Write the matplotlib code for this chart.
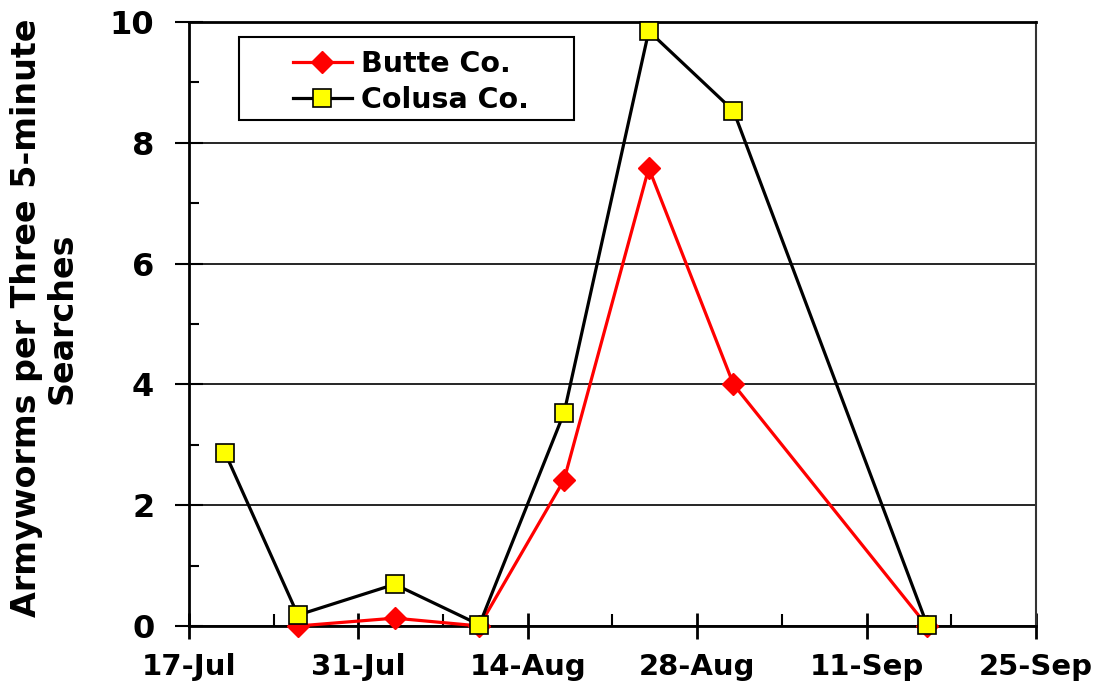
"""Armyworm counts per three 5-minute searches, Butte vs Colusa Co."""

import matplotlib
matplotlib.use("Agg")
import matplotlib.dates as mdates
import matplotlib.pyplot as plt
import pandas as pd
from matplotlib.patches import Rectangle
from matplotlib.ticker import MultipleLocator

# survey dates (year arbitrary, only day/month shown)
butte_dates = ["2004-07-26", "2004-08-03", "2004-08-10", "2004-08-17",
               "2004-08-24", "2004-08-31", "2004-09-16"]
butte_counts = [0.0, 0.13, 0.0, 2.42, 7.58, 4.0, 0.0]

colusa_dates = ["2004-07-20", "2004-07-26", "2004-08-03", "2004-08-10",
                "2004-08-17", "2004-08-24", "2004-08-31", "2004-09-16"]
colusa_counts = [2.86, 0.18, 0.69, 0.02, 3.53, 9.85, 8.53, 0.02]

tick_dates = ["2004-07-17", "2004-07-31", "2004-08-14", "2004-08-28",
              "2004-09-11", "2004-09-25"]

plt.rcParams["font.family"] = "DejaVu Sans"
plt.rcParams["font.weight"] = "bold"

fig = plt.figure(figsize=(11, 6.96), dpi=100)
ax = fig.add_axes([0.1718, 0.1006, 0.7700, 0.8678])

bd = pd.to_datetime(butte_dates)
cd = pd.to_datetime(colusa_dates)
td = pd.to_datetime(tick_dates)

ax.plot(bd, butte_counts, color="#ff0000", lw=2.3, marker="D", ms=11,
        mfc="#ff0000", mec="#ff0000", label="Butte Co.", clip_on=False, zorder=4)
ax.plot(cd, colusa_counts, color="black", lw=2.3, marker="s", ms=13,
        mfc="#ffff00", mec="black", mew=1.2, label="Colusa Co.", clip_on=False, zorder=5)

ax.set_xlim(td[0], td[-1])
ax.set_ylim(0, 10)
ax.set_xticks(td)
ax.xaxis.set_major_formatter(mdates.DateFormatter("%d-%b"))
# minor ticks at week midpoints
ax.set_xticks(td[:-1] + pd.Timedelta(days=7), minor=True)
ax.yaxis.set_major_locator(MultipleLocator(2))
ax.yaxis.set_minor_locator(MultipleLocator(1))

ax.grid(axis="y", which="major", color="black", lw=1.2)
ax.set_axisbelow(True)

ax.tick_params(axis="x", which="major", direction="inout", length=19, width=2,
               labelsize=21, pad=10)
ax.tick_params(axis="x", which="minor", direction="in", length=9, width=1.5)
ax.tick_params(axis="y", which="major", direction="inout", length=20, width=1.5,
               labelsize=23, pad=15)
ax.tick_params(axis="y", which="minor", direction="in", length=7, width=1.5)
for lab in ax.get_xticklabels() + ax.get_yticklabels():
    lab.set_fontweight("bold")

for s in ("left", "bottom", "top"):
    ax.spines[s].set_linewidth(2)
    ax.spines[s].set_color("black")
ax.spines["right"].set_linewidth(1.5)
ax.spines["right"].set_color("#333333")

ax.set_ylabel("Armyworms per Three 5-minute\nSearches", fontsize=24,
              fontweight="bold", linespacing=1.1)
ax.yaxis.set_label_coords(-0.13, 0.51)

# legend box drawn separately to get the wide side padding
ax.add_patch(Rectangle((0.0591, 0.838), 0.396, 0.137, transform=ax.transAxes,
                       facecolor="white", edgecolor="black", lw=1.5, zorder=6))
leg = ax.legend(loc="upper left", bbox_to_anchor=(0.253, 0.948),
                bbox_transform=fig.transFigure, fontsize=20.5, frameon=False,
                handlelength=2.1, handletextpad=0.3, borderpad=0,
                labelspacing=0.25)
leg.set_zorder(7)
for t in leg.get_texts():
    t.set_fontweight("bold")

fig.savefig("out.png", dpi=100)
